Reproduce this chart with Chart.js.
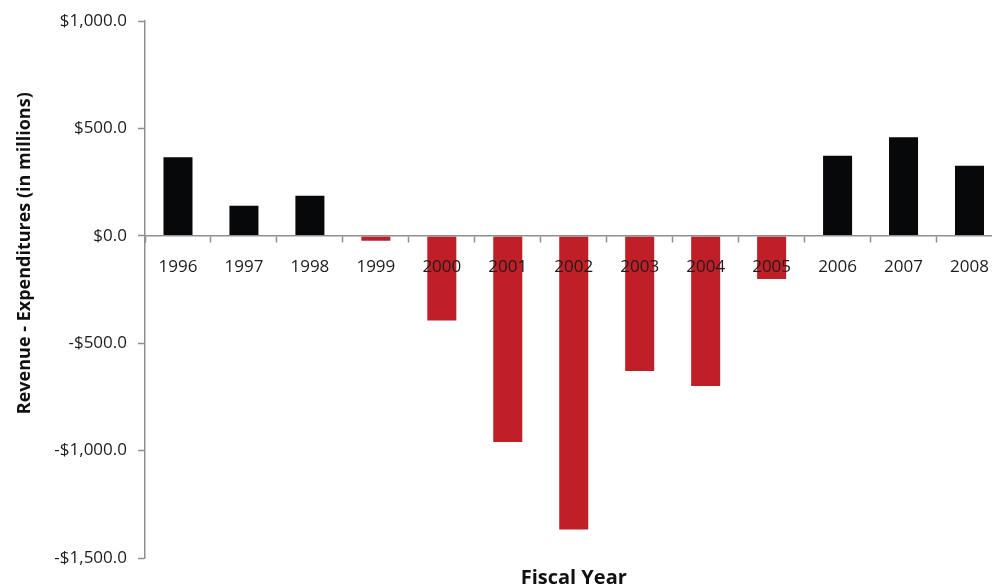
<!DOCTYPE html>
<html>
<head>
<meta charset="utf-8">
<script src="https://cdn.jsdelivr.net/npm/chart.js@4/dist/chart.umd.min.js"></script>
<style>
  html, body { margin: 0; padding: 0; background: #ffffff; overflow: hidden; }
  #wrap { width: 1004px; height: 586px; }
</style>
</head>
<body>
<div id="wrap"><canvas id="chart" width="1004" height="586"></canvas></div>
<script>
// Fiscal years and the yearly balance (revenue minus expenditures, $ millions)
const fiscalYears = ['1996', '1997', '1998', '1999', '2000', '2001', '2002',
                     '2003', '2004', '2005', '2006', '2007', '2008'];
const balance = [366, 141, 187, -23, -394, -960, -1367, -629, -699, -201, 373, 459, 327];

// Value axis range and tick spacing
const axisMin = -1500;
const axisMax = 1000;
const axisStep = 500;

const xTitle = 'Fiscal Year';
const yTitle = 'Revenue - Expenditures (in millions)';

const SURPLUS = '#070809';
const DEFICIT = '#c01f27';
const AXIS_GREY = '#8f8f8f';
const TEXT = '#1c1c1c';
const FONT = '"Open Sans", "Liberation Sans", sans-serif';

function money(v) {
  const s = '$' + Math.abs(v).toLocaleString('en-US', { minimumFractionDigits: 1, maximumFractionDigits: 1 });
  return v < 0 ? '-' + s : s;
}

// Rotated value-axis title, drawn beside the tick labels
const sideTitle = {
  id: 'sideTitle',
  afterDraw(chart) {
    const { ctx, chartArea } = chart;
    ctx.save();
    ctx.font = 'bold 18px ' + FONT;
    ctx.fillStyle = '#111111';
    ctx.textAlign = 'center';
    ctx.textBaseline = 'middle';
    ctx.translate(25, chartArea.top + 232);
    ctx.rotate(-Math.PI / 2);
    ctx.fillText(yTitle, 0, 0);
    ctx.restore();
  }
};

new Chart(document.getElementById('chart'), {
  type: 'bar',
  data: {
    labels: fiscalYears,
    datasets: [{
      data: balance,
      backgroundColor: c => (c.raw < 0 ? DEFICIT : SURPLUS),
      borderWidth: 0,
      categoryPercentage: 1.0,
      barPercentage: 0.44
    }]
  },
  options: {
    responsive: false,
    devicePixelRatio: 1,
    animation: false,
    layout: { padding: { top: 20, right: 1, left: 0, bottom: 0 } },
    plugins: {
      legend: { display: false },
      tooltip: { enabled: false },
      title: {
        display: true,
        text: xTitle,
        position: 'bottom',
        fullSize: false,
        color: '#111111',
        font: { family: FONT, size: 20, weight: 'bold' },
        padding: { top: 8, bottom: -4 }
      }
    },
    scales: {
      x: {
        position: { y: 0 },
        grid: {
          drawOnChartArea: false,
          offset: true,
          tickLength: 6,
          tickColor: AXIS_GREY,
          tickWidth: 1.5,
          z: 1
        },
        border: { color: AXIS_GREY, width: 1.5, z: 1 },
        ticks: {
          color: TEXT,
          font: { family: FONT, size: 17 },
          padding: 15,
          maxRotation: 0,
          autoSkip: false,
          z: 1
        }
      },
      y: {
        min: axisMin,
        max: axisMax,
        afterFit(scale) { scale.width = 145; },
        grid: {
          drawOnChartArea: false,
          tickLength: 7,
          tickColor: AXIS_GREY,
          tickWidth: 1.5
        },
        border: { color: AXIS_GREY, width: 1.5 },
        ticks: {
          stepSize: axisStep,
          color: TEXT,
          font: { family: FONT, size: 17 },
          padding: 11,
          callback: v => money(v)
        }
      }
    }
  },
  plugins: [sideTitle]
});
</script>
</body>
</html>
